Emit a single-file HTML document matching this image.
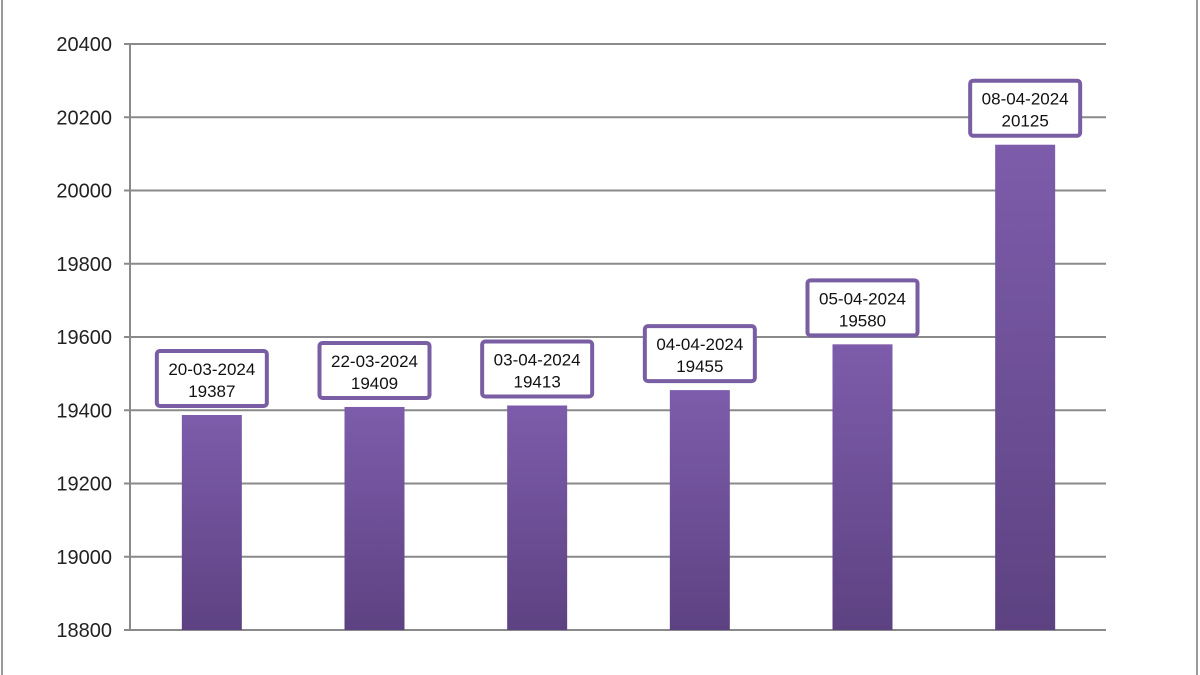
<!DOCTYPE html>
<html><head><meta charset="utf-8"><style>
body{margin:0;background:#fff;}
svg{display:block;font-family:"Liberation Sans",Calibri,sans-serif;}
</style></head><body>
<svg id="chart" width="1200" height="675">
<defs><linearGradient id="g" x1="0" y1="0" x2="0" y2="1"><stop offset="0" stop-color="#7d5cab"/><stop offset="1" stop-color="#5d4282"/></linearGradient></defs>
<rect x="2" y="-2" width="1195" height="690" fill="none" stroke="#9a9a9a" stroke-width="2"/>
<g id="grid"></g><g id="bars"></g><g id="labels"></g>
</svg>
<script>
const categories=["20-03-2024","22-03-2024","03-04-2024","04-04-2024","05-04-2024","08-04-2024"];
const values=[19387,19409,19413,19455,19580,20125];
const yTicks=[18800,19000,19200,19400,19600,19800,20000,20200,20400];
const NS="http://www.w3.org/2000/svg";
const x0=130,x1=1106,yMin=18800,yMax=20400,yTop=44,yBot=630;
const y=v=>yBot-(v-yMin)/(yMax-yMin)*(yBot-yTop);
const band=(x1-x0)/categories.length;
const xc=i=>x0+band*(i+0.5)+0.5;
function mk(t,a,p){const e=document.createElementNS(NS,t);for(const k in a)e.setAttribute(k,a[k]);p.appendChild(e);return e;}
const grid=document.getElementById('grid');
yTicks.forEach(t=>{
 const l=mk('line',{x1:124,x2:x1,y1:y(t),y2:y(t),stroke:'#8a8a8a','stroke-width':2},grid);
 
 
 const tx=mk('text',{x:112,y:y(t)+7,'text-anchor':'end','font-size':20,fill:'#222'},grid);
 tx.textContent=t;
 
 
});
const ax=mk('line',{x1:x0,x2:x0,y1:yTop,y2:yBot,stroke:'#8a8a8a','stroke-width':2},grid);


const bars=document.getElementById('bars'),labels=document.getElementById('labels');
values.forEach((v,i)=>{
 const bw=60,cx=xc(i);
 const r=mk('rect',{x:cx-bw/2,y:y(v),width:bw,height:yBot-y(v),fill:'url(#g)'},bars);
 
 
 const bt=y(v)-9,bh=55,bwid=110;
 const b=mk('rect',{x:cx-bwid/2,y:bt-bh,width:bwid,height:bh,rx:3,fill:'#fff',stroke:'#7a5ea3','stroke-width':4},labels);
 
 
 const t1=mk('text',{x:cx,y:bt-bh+24,'text-anchor':'middle','font-size':17,fill:'#111'},labels);
 t1.textContent=categories[i];
 
 
 const t2=mk('text',{x:cx,y:bt-bh+46,'text-anchor':'middle','font-size':17,fill:'#111'},labels);
 t2.textContent=v;
 
 
});
</script>
</body></html>
